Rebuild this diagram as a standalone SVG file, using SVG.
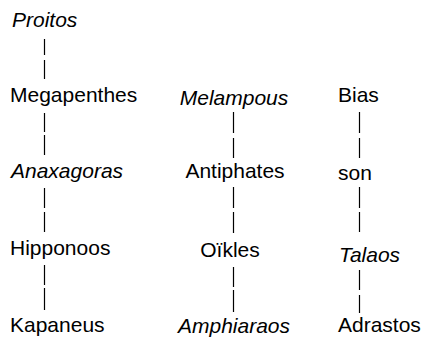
<svg xmlns="http://www.w3.org/2000/svg" width="423" height="337" viewBox="0 0 423 337">
<style>
text{font-family:"Liberation Sans",Arial,Helvetica,sans-serif;font-size:21px;fill:#000}
.i{font-style:italic}
.m{text-anchor:middle}
.c{fill:none;stroke:#000;stroke-width:1.2}
</style>
<rect width="423" height="337" fill="#fff"/>
<g id="connectors">
<path class="c" d="M44.5 39V55M44.5 60V79M44.5 113V132M44.5 135V155M44.5 188V208M44.5 212V232M44.5 265V285M44.5 288V310"/>
<path class="c" d="M233.5 112V133M233.5 138V158M233.5 187V208M233.5 212V233M233.5 267V287M233.5 290V312"/>
<path class="c" d="M359.5 112V133M359.5 138V158M359.5 187V208M359.5 212V232M359.5 270V290M359.5 295V313"/>
</g>
<g id="proitos"><text class="i" x="12" y="27">Proitos</text></g>
<g id="megapenthes"><text x="10" y="102">Megapenthes</text></g>
<g id="anaxagoras"><text class="i" x="11" y="178">Anaxagoras</text></g>
<g id="hipponoos"><text x="10" y="255">Hipponoos</text></g>
<g id="kapaneus"><text x="10" y="332">Kapaneus</text></g>
<g id="melampous"><text class="i m" x="234" y="105">Melampous</text></g>
<g id="antiphates"><text class="m" x="235" y="178">Antiphates</text></g>
<g id="oikles"><text class="m" x="230" y="257">Oïkles</text></g>
<g id="amphiaraos"><text class="i m" x="234" y="333">Amphiaraos</text></g>
<g id="bias"><text x="338" y="102">Bias</text></g>
<g id="son"><text x="338" y="180">son</text></g>
<g id="talaos"><text class="i" x="339" y="262">Talaos</text></g>
<g id="adrastos"><text x="338" y="332">Adrastos</text></g>
</svg>
